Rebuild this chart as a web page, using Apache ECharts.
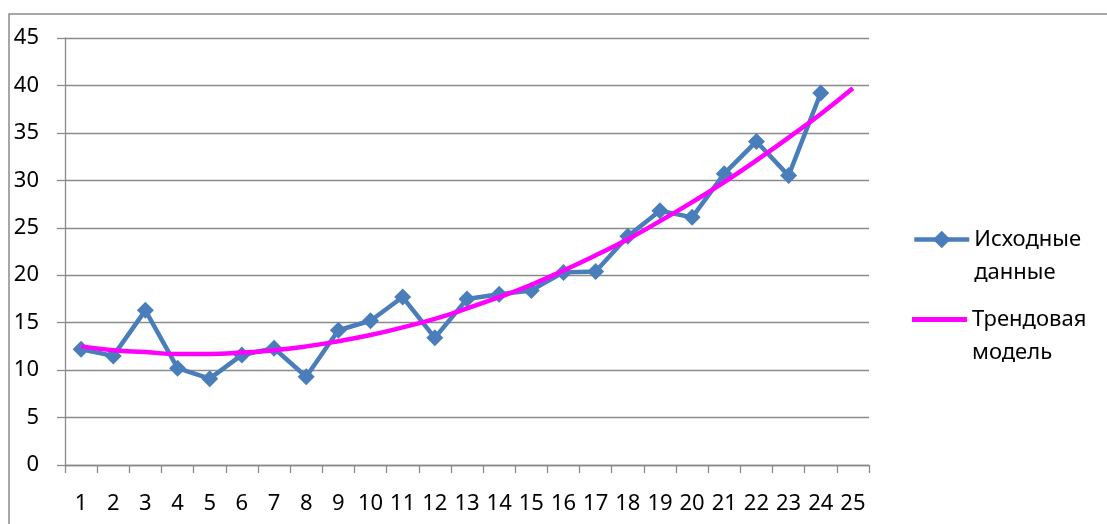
<!DOCTYPE html>
<html>
<head>
<meta charset="utf-8">
<script src="https://cdn.jsdelivr.net/npm/echarts@6/dist/echarts.min.js"></script>
<style>html,body{margin:0;padding:0;background:#fff;}#c{width:1107px;height:524px;}</style>
</head>
<body>
<div id="c"></div>
<script>
var categories = ['1','2','3','4','5','6','7','8','9','10','11','12','13','14','15','16','17','18','19','20','21','22','23','24','25'];
var sourceData = [12.2, 11.5, 16.3, 10.2, 9.1, 11.6, 12.3, 9.3, 14.2, 15.2, 17.7, 13.4, 17.5, 18.0, 18.4, 20.3, 20.4, 24.1, 26.8, 26.1, 30.7, 34.1, 30.5, 39.2];
var trendData = [12.5, 12.1, 11.9, 11.7, 11.7, 11.85, 12.1, 12.5, 13.05, 13.7, 14.5, 15.4, 16.5, 17.7, 19.0, 20.5, 22.1, 23.8, 25.7, 27.7, 29.8, 32.1, 34.5, 37.0, 39.7];
var yTicks = {min: 0, max: 45, interval: 5};
var seriesNames = ['Исходные данные', 'Трендовая модель'];

var font = 'Noto Sans';
var gray = '#8a8a8a';
var chart = echarts.init(document.getElementById('c'), null, {renderer: 'canvas'});
var legendText = {
  fontFamily: font, fontSize: 22, color: '#000', lineHeight: 33
};
function legendFmt(n) { return '\n' + n.replace(' ', '\n'); }
chart.setOption({
  animation: false,
  backgroundColor: '#fff',
  graphic: [{
    type: 'rect', shape: {x: 9, y: 14, width: 1300, height: 700},
    style: {fill: 'none', stroke: gray, lineWidth: 1.5}, silent: true, z: -1
  }],
  grid: {left: 65, right: 238, top: 38, bottom: 59},
  legend: [{
    data: [seriesNames[0]], orient: 'vertical', left: 907, top: 185,
    itemWidth: 55, itemHeight: 22, itemGap: 0,
    lineStyle: {width: 4.5},
    formatter: legendFmt,
    textStyle: legendText
  }, {
    data: [{name: seriesNames[1], icon: 'rect'}], orient: 'vertical', left: 907, top: 265,
    itemWidth: 55, itemHeight: 5, itemGap: 0,
    formatter: legendFmt,
    textStyle: legendText
  }],
  xAxis: {
    type: 'category', data: categories, boundaryGap: true,
    axisLine: {lineStyle: {color: gray, width: 1.3}},
    axisTick: {show: true, length: 8, lineStyle: {color: gray, width: 1.3}, interval: 0},
    axisLabel: {fontFamily: font, fontSize: 22, color: '#000', margin: 28, interval: 0},
    splitLine: {show: false}
  },
  yAxis: {
    type: 'value', min: yTicks.min, max: yTicks.max, interval: yTicks.interval,
    axisLine: {show: true, lineStyle: {color: gray, width: 1.3}},
    axisTick: {show: true, length: 8, lineStyle: {color: gray, width: 1.3}},
    axisLabel: {fontFamily: font, fontSize: 22, color: '#000', margin: 26},
    splitLine: {show: true, lineStyle: {color: gray, width: 1.3}}
  },
  series: [{
    name: seriesNames[0], type: 'line', data: sourceData,
    symbol: 'diamond', symbolSize: 17,
    lineStyle: {color: '#4a7ebb', width: 4.5},
    itemStyle: {color: '#4a7ebb'},
    z: 2
  }, {
    name: seriesNames[1], type: 'line', data: trendData,
    symbol: 'none', smooth: true,
    lineStyle: {color: '#ff00ff', width: 4.5},
    itemStyle: {color: '#ff00ff'},
    z: 3
  }]
});
</script>
</body>
</html>
